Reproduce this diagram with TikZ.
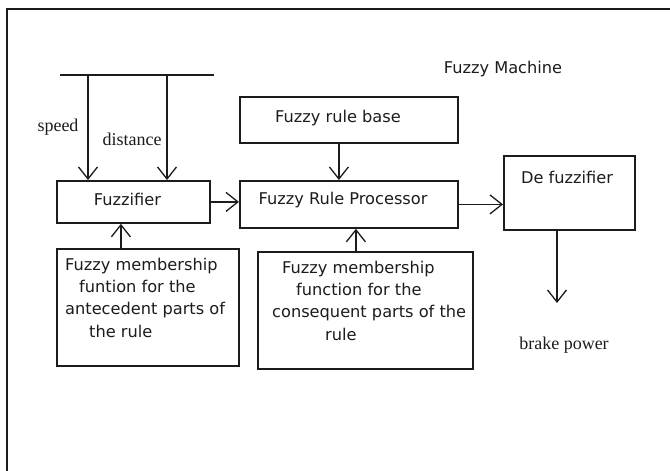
\documentclass[tikz,border=0pt]{standalone}
\usepackage{fontspec}
\setmainfont{DejaVu Sans}
\newfontfamily\seriffam{Liberation Serif}
\usetikzlibrary{arrows.meta}
\definecolor{ink}{HTML}{1C1C1C}

\tikzset{
  panel/.style={draw=ink, line width=1.8pt, inner sep=0pt, anchor=north west},
  flow/.style={draw=ink, line width=1.3pt, -{Straight Barb[length=12pt,width=19pt,line width=1.3pt]}},
  sanslabel/.style={inner sep=0pt, text=ink, anchor=base, font=\fontsize{16.2}{22.3}\selectfont},
  seriflabel/.style={inner sep=0pt, text=ink, anchor=base, font=\seriffam\fontsize{18}{22}\selectfont},
  % base anchor of a multi-line node sits on its last line
  blocklabel/.style={inner sep=0pt, text=ink, anchor=base west, align=left, font=\fontsize{16.2}{22.3}\selectfont}
}

\begin{document}
\begin{tikzpicture}[x=1pt,y=-1pt]
  \useasboundingbox (0,0) rectangle (670,471);
  \fill[white] (0,0) rectangle (670,471);

  % frame edges
  \coordinate (frameTL) at (7,9);
  \draw[ink, line width=1.8pt] (frameTL -| 670,0) -- (frameTL) -- (7,471);

  % blocks
  \node[panel, minimum width=153pt, minimum height=42pt]  (fuzz)  at (56,180)  {};
  \node[panel, minimum width=218pt, minimum height=46pt]  (base)  at (239,96)  {};
  \node[panel, minimum width=218pt, minimum height=47pt]  (proc)  at (239,180) {};
  \node[panel, minimum width=131pt, minimum height=74pt]  (defz)  at (503,155) {};
  \node[panel, minimum width=182pt, minimum height=117pt] (antec) at (56,248)  {};
  \node[panel, minimum width=215pt, minimum height=117pt] (conse) at (257,251) {};

  % block texts
  \node[sanslabel] (title)    at (503,73)  {Fuzzy Machine};
  \node[sanslabel] (fuzzT)    at (127.5,205) {Fuzzifier};
  \node[sanslabel] (baseT)    at (338,122) {Fuzzy rule base};
  \node[sanslabel] (procT)    at (343,204) {Fuzzy Rule Processor};
  \node[sanslabel] (defzT)    at (567,183) {De fuzzifier};
  \node[blocklabel] (antecT)  at (65,337)
    {Fuzzy membership\\\hspace*{14pt}funtion for the\\antecedent parts of\\\hspace*{24pt}the rule};
  \node[blocklabel] (conseT)  at (272,340)
    {\hspace*{10pt}Fuzzy membership\\\hspace*{24pt}function for the\\consequent parts of the\\\hspace*{53pt}rule};

  % input bus
  \coordinate (busL) at (60,75);
  \coordinate (busR) at (214,75);
  \draw[ink, line width=1.8pt] (busL) -- (busR);
  \coordinate (speedIn) at (88,75);
  \coordinate (distIn)  at (167,75);

  \node[seriflabel] (speedT) at (58,131) {speed};
  \node[seriflabel] (distT)  at (132,145) {distance};
  \node[seriflabel] (brakeT) at (564,349) {brake power};

  % connectors
  \draw[flow] (speedIn) -- (speedIn |- fuzz.north);
  \draw[flow] (distIn) -- (distIn |- fuzz.north);
  \draw[flow] ([xshift=-10pt]base.south) -- ([xshift=-10pt]base.south |- proc.north);
  \draw[flow] (fuzz.east) -- (fuzz.east -| proc.west);
  \draw[flow] (proc.east) -- (proc.east -| defz.west);
  \coordinate (brakeOut) at (557,303);
  \draw[flow] (brakeOut |- defz.south) -- (brakeOut);
  \draw[flow] ([xshift=-27pt]antec.north) -- ([xshift=-27pt]antec.north |- fuzz.south);
  \draw[flow] ([xshift=-9.5pt]conse.north) -- ([xshift=-9.5pt]conse.north |- proc.south);
\end{tikzpicture}
\end{document}
